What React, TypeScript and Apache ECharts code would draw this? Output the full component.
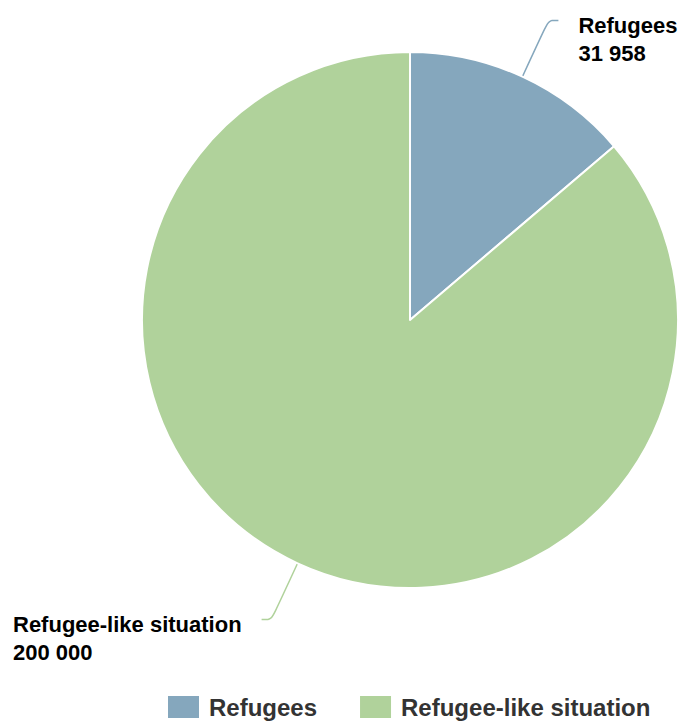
import React, { useEffect, useRef } from "react";
import * as echarts from "echarts";

const categories = ["Refugees", "Refugee-like situation"];
const values = [31958, 200000];
const colors = ["#85a7bd", "#b0d29b"];

function fmt(v: number): string {
  return String(v).replace(/\B(?=(\d{3})+(?!\d))/g, " ");
}

export default function App() {
  const ref = useRef<HTMLDivElement>(null);
  useEffect(() => {
    if (!ref.current) return;
    const chart = echarts.init(ref.current, null, { renderer: "svg" });
    chart.setOption({
      animation: false,
      color: colors,
      legend: {
        data: categories,
        left: 161,
        top: 689,
        itemWidth: 33,
        itemHeight: 24,
        itemGap: 41,
        icon: "rect",
        textStyle: {
          fontFamily: "Liberation Sans",
          fontWeight: "bold",
          fontSize: 24,
          color: "#333",
          padding: [0, 0, 0, 4],
        },
      },
      series: [
        {
          type: "pie",
          center: [410, 320],
          radius: 268,
          startAngle: 90,
          clockwise: true,
          avoidLabelOverlap: false,
          data: categories.map((c, i) => ({ name: c, value: values[i] })),
          itemStyle: { borderColor: "#fff", borderWidth: 2 },
          label: {
            show: true,
            position: "outside",
            formatter: (p: any) => `{e| }\n{n|${p.name}}\n{n|${fmt(p.value)}}`,
            distanceToLabelLine: 20,
            overflow: "none",
            rich: {
              e: {
                align: "left",
                fontSize: 10,
                lineHeight: 38,
              },
              n: {
                align: "left",
                fontFamily: "Liberation Sans",
                fontWeight: "bold",
                fontSize: 22,
                lineHeight: 28,
                color: "#000",
              },
            },
          },
          labelLine: {
            show: true,
            length: 62,
            length2: 10,
            smooth: true,
            lineStyle: { width: 1.5 },
          },
          emphasis: { disabled: true },
        },
      ],
    });
    return () => chart.dispose();
  }, []);
  return (
    <div
      ref={ref}
      style={{ position: "absolute", left: 0, top: 0, width: 682, height: 725 }}
    />
  );
}
